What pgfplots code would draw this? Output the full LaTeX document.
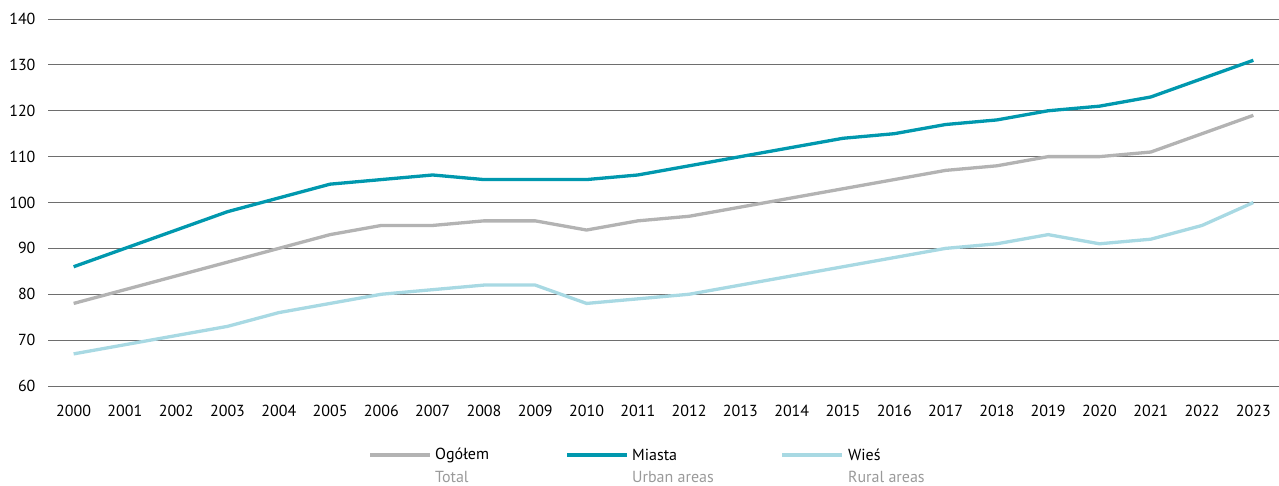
\documentclass[border=0pt]{standalone}
\usepackage{pgfplots}
\pgfplotsset{compat=1.18}
\usepackage{pgfplotstable}
\usepackage{fontspec}
\setmainfont{PT Sans}
\definecolor{cgray}{HTML}{B3B3B3}
\definecolor{cteal}{HTML}{0098AE}
\definecolor{clight}{HTML}{A8D9E3}
\definecolor{gridc}{HTML}{6E6E6E}
\definecolor{subtxt}{HTML}{9A9A9A}
\pgfplotstableread{
year total urban rural
2000 78 86 67
2001 81 90 69
2002 84 94 71
2003 87 98 73
2004 90 101 76
2005 93 104 78
2006 95 105 80
2007 95 106 81
2008 96 105 82
2009 96 105 82
2010 94 105 78
2011 96 106 79
2012 97 108 80
2013 99 110 82
2014 101 112 84
2015 103 114 86
2016 105 115 88
2017 107 117 90
2018 108 118 91
2019 110 120 93
2020 110 121 91
2021 111 123 92
2022 115 127 95
2023 119 131 100
}\data
\begin{document}
\begin{tikzpicture}[x=1pt,y=1pt]
\useasboundingbox (-48,-99) rectangle (1231,386);
\begin{axis}[
  at={(0,0)}, anchor=south west,
  scale only axis,
  width=1231pt, height=367pt,
  xmin=1999.5, xmax=2023.5,
  ymin=60, ymax=140,
  xtick=data,
  ytick={60,70,...,140},
  axis line style={draw=none},
  tick style={draw=none},
  xmajorgrids=false,
  ymajorgrids=true,
  grid style={draw=gridc, line width=0.9pt},
  font=\fontsize{16}{18}\selectfont,
  /pgf/number format/assume math mode=true,
  xticklabel style={/pgf/number format/1000 sep={}, yshift=-16pt},
  yticklabel style={xshift=-9pt},
  clip=false,
]
\addplot[cgray, line width=3.3pt, line join=round] table[x=year,y=total] {\data};
\addplot[cteal, line width=3.3pt, line join=round] table[x=year,y=urban] {\data};
\addplot[clight, line width=3.3pt, line join=round] table[x=year,y=rural] {\data};
\end{axis}
\begin{scope}[font=\fontsize{16}{18}\selectfont]
\draw[cgray, line width=3.3pt] (322,-69) -- (382,-69);
\node[anchor=west, inner sep=0pt] at (387,-69) {Ogółem};
\node[anchor=west, inner sep=0pt, text=subtxt] at (387,-91) {Total};
\draw[cteal, line width=3.3pt] (519,-69) -- (579,-69);
\node[anchor=west, inner sep=0pt] at (584,-69) {Miasta};
\node[anchor=west, inner sep=0pt, text=subtxt] at (584,-91) {Urban areas};
\draw[clight, line width=3.3pt] (734,-69) -- (794,-69);
\node[anchor=west, inner sep=0pt] at (800,-69) {Wieś};
\node[anchor=west, inner sep=0pt, text=subtxt] at (800,-91) {Rural areas};
\end{scope}
\end{tikzpicture}
\end{document}
